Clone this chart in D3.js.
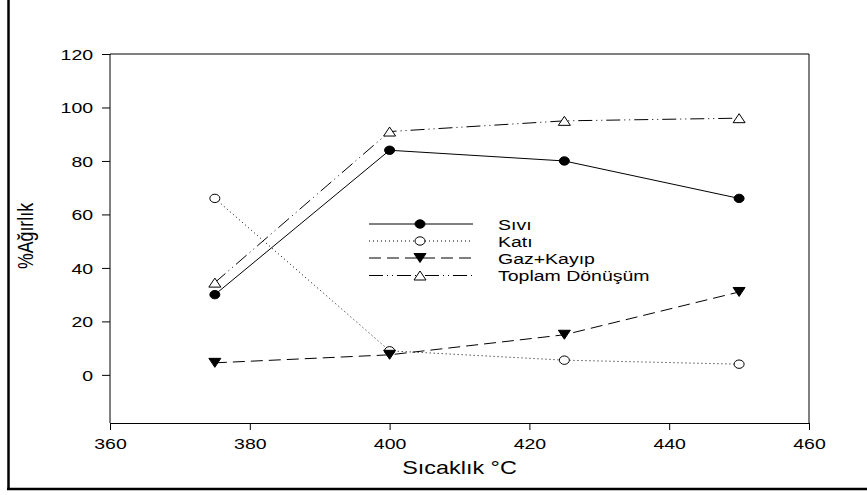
<!DOCTYPE html>
<html>
<head>
<meta charset="utf-8">
<script src="https://cdn.jsdelivr.net/npm/d3@7"></script>
<style>
  body { margin: 0; background: #fff; }
  svg text { font-family: "Liberation Sans", Arial, sans-serif; fill: #000; }
</style>
</head>
<body>
<div id="chart"></div>
<script>
// data
const temps = [375, 400, 425, 450];
const sivi = [30, 84, 80, 66];
const kati = [66, 9, 5.5, 4];
const gazKayip = [4.5, 7.5, 15, 31];
const toplam = [34.5, 91, 95, 96];

const seriesNames = ["Sıvı", "Katı", "Gaz+Kayıp", "Toplam Dönüşüm"];
const xTicks = [360, 380, 400, 420, 440, 460];
const yTicks = [0, 20, 40, 60, 80, 100, 120];

const series = [
    { name: seriesNames[0], values: sivi, dash: null, marker: "circle", fill: "#000" },
    { name: seriesNames[1], values: kati, dash: "1,3", marker: "circle", fill: "#fff" },
    { name: seriesNames[2], values: gazKayip, dash: "12,6", marker: "down", fill: "#000" },
    { name: seriesNames[3], values: toplam, dash: "14,4,1,4,1,4", marker: "up", fill: "#fff" }
];

const width = 867, height = 495;
const stretch = 1.3; // the original picture is stretched sideways

const svg = d3.select("#chart").append("svg")
    .attr("width", width)
    .attr("height", height);

const x = d3.scaleLinear().domain([360, 460]).range([110, 809]);
const y = d3.scaleLinear().domain([-18, 120]).range([423, 54]);

// outer frame (left and bottom only visible)
svg.append("line").attr("x1", 8.5).attr("x2", 8.5).attr("y1", 0).attr("y2", 489)
    .attr("stroke", "#000").attr("stroke-width", 2.5);
svg.append("line").attr("x1", 7).attr("x2", width).attr("y1", 489).attr("y2", 489)
    .attr("stroke", "#000").attr("stroke-width", 2.5);

// plot box top and right
svg.append("path")
    .attr("d", `M${x(360)},${y(120)}H${x(460)}V${y(-18)}`)
    .attr("fill", "none").attr("stroke", "#000").attr("stroke-width", 1);

const yAxis = svg.append("g")
    .attr("transform", `translate(${x(360)},0)`)
    .call(d3.axisLeft(y).tickValues(yTicks).tickSize(8).tickSizeOuter(0));
yAxis.select(".domain").attr("d", `M0,${y(120)}V${y(-18)}`);
yAxis.selectAll("text")
    .attr("x", -13).attr("dy", "0.36em")
    .attr("font-size", 15).attr("font-family", null)
    .attr("transform", `scale(${stretch},1)`);

const xAxis = svg.append("g")
    .attr("transform", `translate(0,${y(-18)})`)
    .call(d3.axisBottom(x).tickValues(xTicks).tickSize(7).tickSizeOuter(0));
xAxis.selectAll("text")
    .attr("y", 26).attr("dy", 0)
    .attr("font-size", 15).attr("font-family", null)
    .attr("transform", `scale(${stretch},1)`);
svg.selectAll(".tick line, .domain").attr("stroke", "#000");

// axis titles
svg.append("text")
    .attr("transform", `translate(${x(410)},474) scale(${stretch},1)`)
    .attr("text-anchor", "middle")
    .attr("font-size", 18)
    .text("Sıcaklık °C");

svg.append("text")
    .attr("transform", `translate(33,236) scale(${stretch},1) rotate(-90)`)
    .attr("text-anchor", "middle")
    .attr("font-size", 17)
    .attr("textLength", 66)
    .attr("lengthAdjust", "spacingAndGlyphs")
    .text("%Ağırlık");

function drawMarker(g, type, fill) {
    if (type === "circle") {
        g.append("ellipse").attr("rx", 5).attr("ry", 4.2)
            .attr("fill", fill).attr("stroke", "#000").attr("stroke-width", 1);
    } else {
        const s = type === "up" ? -1 : 1;
        g.append("path")
            .attr("d", `M-6,${-4.5 * s}L6,${-4.5 * s}L0,${4.5 * s}Z`)
            .attr("fill", fill).attr("stroke", "#000").attr("stroke-width", 1);
    }
}

const line = d3.line()
    .x((d, i) => x(temps[i]))
    .y(d => y(d));

series.forEach(s => {
    svg.append("path")
        .datum(s.values)
        .attr("d", line)
        .attr("fill", "none")
        .attr("stroke", "#000")
        .attr("stroke-width", 1)
        .attr("stroke-dasharray", s.dash);
    s.values.forEach((v, i) => {
        const g = svg.append("g").attr("transform", `translate(${x(temps[i])},${y(v)})`);
        drawMarker(g, s.marker, s.fill);
    });
});

// legend
const legendY = [224, 241, 258, 275.5];
series.forEach((s, i) => {
    const g = svg.append("g").attr("transform", `translate(0,${legendY[i]})`);
    g.append("line").attr("x1", 369).attr("x2", 473).attr("y1", 0).attr("y2", 0)
        .attr("stroke", "#000").attr("stroke-width", 1)
        .attr("stroke-dasharray", s.dash);
    drawMarker(g.append("g").attr("transform", "translate(420,0)"), s.marker, s.fill);
    g.append("text")
        .attr("transform", `translate(498,5.5) scale(${stretch},1)`)
        .attr("font-size", 15)
        .text(s.name);
});
</script>
</body>
</html>
